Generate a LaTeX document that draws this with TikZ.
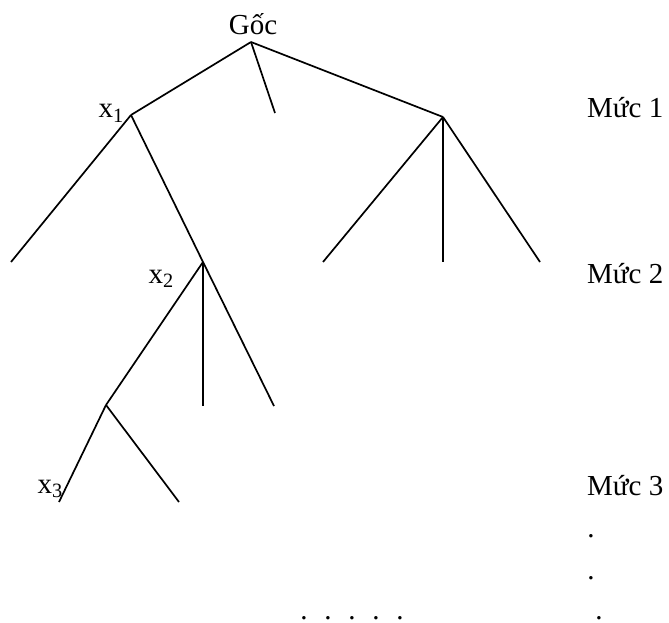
\documentclass[tikz,border=0pt]{standalone}
\usepackage{fontspec}
\setmainfont{Liberation Serif}
\begin{document}
\begin{tikzpicture}[x=1pt, y=-1pt, branch/.style={line width=1.7pt}, lbl/.style={inner sep=0pt, font=\fontsize{29}{33}\selectfont}]
	\useasboundingbox (0,0) rectangle (669,623);
	%\fill (0,0) circle (1pt);
	\coordinate (r) at (251,42);
	\coordinate (x1) at (131,115);
	\coordinate (s) at (275,113);
	\coordinate (b) at (443,117);
	\coordinate (l1) at (11,262);
	\coordinate (x2) at (203,262);
	\coordinate (b1) at (323,262);
	\coordinate (b2) at (443,262);
	\coordinate (b3) at (540,262);
	\coordinate (c) at (106,405);
	\coordinate (c2) at (203,406);
	\coordinate (c3) at (274,406);
	\coordinate (x3) at (59,502);
	\coordinate (d2) at (179,502);
	\node[lbl, anchor=base] (goc) at (253,35) {Gốc};
	\node[lbl, anchor=base east] (lx1) at (124,118) {x\textsubscript{1}};
	\node[lbl, anchor=base east] (lx2) at (174,283) {x\textsubscript{2}};
	\node[lbl, anchor=base east] (lx3) at (63,493) {x\textsubscript{3}};
	\node[lbl, anchor=base west] (m1) at (587,118) {Mức 1};
	\node[lbl, anchor=base west] (m2) at (587,283) {Mức 2};
	\node[lbl, anchor=base west] (m3) at (587,495) {Mức 3};
	\draw[branch] (r) -- (x1);
	\draw[branch] (r) -- (s);
	\draw[branch] (r) -- (b);
	\draw[branch] (x1) -- (l1);
	\draw[branch] (x1) -- (x2);
	\draw[branch] (b) -- (b1);
	\draw[branch] (b) -- (b2);
	\draw[branch] (b) -- (b3);
	\draw[branch] (x2) -- (c);
	\draw[branch] (x2) -- (c2);
	\draw[branch] (x2) -- (c3);
	\draw[branch] (c) -- (x3);
	\draw[branch] (c) -- (d2);
	\foreach \i in {0,...,4}
		\node[lbl, anchor=base] (h\i) at (304+24*\i,619) {.};
	\node[lbl, anchor=base] (v1) at (591,537) {.};
	\node[lbl, anchor=base] (v2) at (591,579) {.};
	\node[lbl, anchor=base] (v3) at (599,619) {.};
\end{tikzpicture}
\end{document}
